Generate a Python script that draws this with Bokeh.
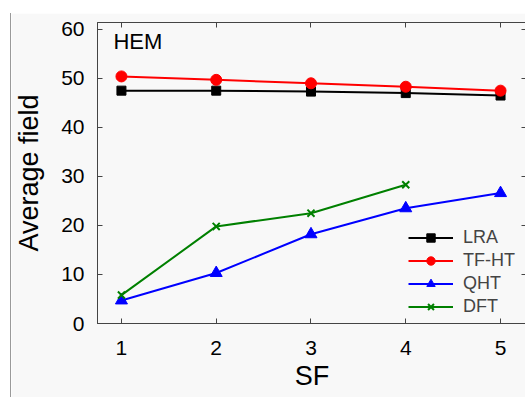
from bokeh.plotting import figure
from bokeh.models import LinearAxis, FixedTicker, Range1d, Label, Legend
from bokeh.embed import file_html
from bokeh.resources import INLINE

sf = [1, 2, 3, 4, 5]
sf_dft = [1, 2, 3, 4]
lra = [47.5, 47.5, 47.3, 47.0, 46.5]
tfht = [50.4, 49.7, 49.0, 48.3, 47.5]
qht = [4.7, 10.3, 18.2, 23.5, 26.6]
dft = [5.8, 19.8, 22.5, 28.3]
x_ticks = [1, 2, 3, 4, 5]
y_ticks = [0, 10, 20, 30, 40, 50, 60]

FONT = "Liberation Sans"
BG = "#f8f8f8"
FRAME = "#444444"

p = figure(width=515, height=384, output_backend="svg", toolbar_location=None,
           x_range=Range1d(0.7474, 5.274), y_range=Range1d(0, 61.4),
           min_border_left=85, min_border_right=0, min_border_top=9, min_border_bottom=74)
p.styles = {"margin-left": "10px", "margin-top": "13px", "border-left": "1px solid #9a9a9a"}
p.background_fill_color = BG
p.border_fill_color = BG
p.outline_line_color = FRAME
p.outline_line_width = 1
p.grid.visible = False

for ax in (p.xaxis[0], p.yaxis[0]):
    ax.major_tick_in = 5
    ax.major_tick_out = 0
    ax.minor_tick_line_color = None
    ax.axis_line_color = FRAME
    ax.major_tick_line_color = FRAME
    ax.major_label_text_font = FONT
    ax.major_label_text_font_size = "21px"
    ax.major_label_text_color = "black"
    ax.axis_label_text_font = FONT
    ax.axis_label_text_font_style = "normal"
    ax.axis_label_text_font_size = "27px"
    ax.axis_label_text_color = "black"

p.xaxis[0].ticker = FixedTicker(ticks=x_ticks)
p.yaxis[0].ticker = FixedTicker(ticks=y_ticks)
p.xaxis[0].axis_label = "SF"
p.yaxis[0].axis_label = "Average field"
p.xaxis[0].major_label_standoff = 17
p.xaxis[0].axis_label_standoff = 3
p.yaxis[0].major_label_standoff = 13
p.yaxis[0].axis_label_standoff = 14

top = LinearAxis(ticker=FixedTicker(ticks=x_ticks))
right = LinearAxis(ticker=FixedTicker(ticks=y_ticks))
for ax in (top, right):
    ax.major_tick_in = 5
    ax.major_tick_out = 0
    ax.minor_tick_line_color = None
    ax.axis_line_color = FRAME
    ax.major_tick_line_color = FRAME
    ax.major_label_text_font_size = "0px"
    ax.major_label_text_color = None
    ax.major_label_standoff = 0
    ax.axis_label = None
p.add_layout(top, "above")
p.add_layout(right, "right")

r1 = p.line(sf, lra, line_color="black", line_width=2)
m1 = p.scatter(sf, lra, marker="square", size=9, color="black")
r2 = p.line(sf, tfht, line_color="red", line_width=2)
m2 = p.scatter(sf, tfht, marker="circle", size=11, color="red")
r3 = p.line(sf, qht, line_color="blue", line_width=2)
m3 = p.scatter(sf, qht, marker="triangle", size=12, color="blue")
r4 = p.line(sf_dft, dft, line_color="green", line_width=2)
m4 = p.scatter(sf_dft, dft, marker="x", size=10, line_color="green", line_width=2)

legend = Legend(items=[("LRA", [r1, m1]), ("TF-HT", [r2, m2]), ("QHT", [r3, m3]), ("DFT", [r4, m4])],
                location=(311, 6), padding=0, margin=0, spacing=2,
                glyph_width=45, glyph_height=21, label_height=21, label_standoff=10,
                label_text_font=FONT, label_text_font_size="18px",
                border_line_color=None, background_fill_alpha=0)
p.add_layout(legend, "center")

p.add_layout(Label(x=0.915, y=57.6, text="HEM", text_font=FONT, text_font_size="22px",
                   text_baseline="middle", text_color="black"))

open("out.html", "w").write(file_html(p, INLINE))
